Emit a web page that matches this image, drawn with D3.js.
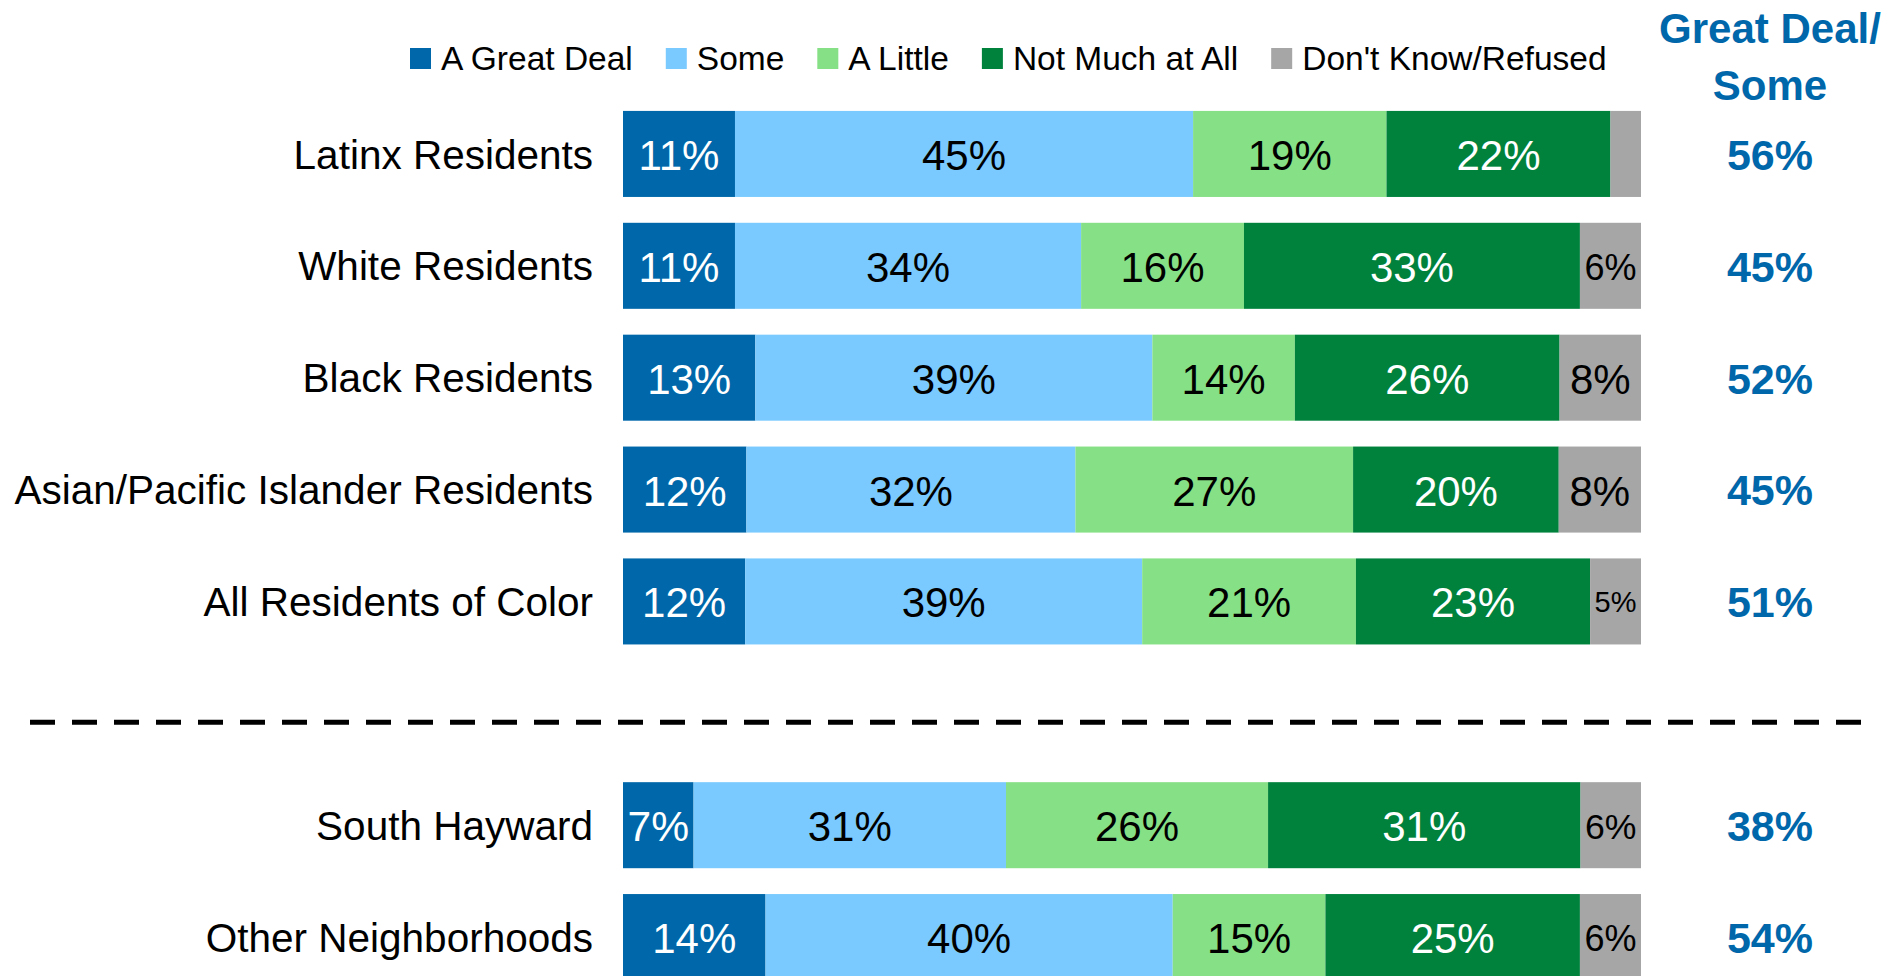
<!DOCTYPE html>
<html>
<head>
<meta charset="utf-8">
<script src="https://d3js.org/d3.v7.min.js"></script>
<style>
  body { margin: 0; background: white; }
  text { font-family: "Liberation Sans", Arial, sans-serif; }
  .cat { font-size: 40.5px; fill: #000; }
  .legend text { font-size: 33.5px; fill: #000; }
  .total { font-size: 43px; font-weight: bold; fill: #0067AB; }
  .head { font-size: 42px; font-weight: bold; fill: #0067AB; }
</style>
</head>
<body>
<svg id="chart" width="1890" height="976"></svg>
<script>
// data
var categories = ["Latinx Residents", "White Residents", "Black Residents",
  "Asian/Pacific Islander Residents", "All Residents of Color",
  "South Hayward", "Other Neighborhoods"];
var responses = ["A Great Deal", "Some", "A Little", "Not Much at All", "Don't Know/Refused"];
var greatDeal = [11, 11, 13, 12, 12, 7, 14];
var some      = [45, 34, 39, 32, 39, 31, 40];
var aLittle   = [19, 16, 14, 27, 21, 26, 15];
var notMuch   = [22, 33, 26, 20, 23, 31, 25];
var dontKnow  = [3, 6, 8, 8, 5, 6, 6];
var greatDealSome = [56, 45, 52, 45, 51, 38, 54];

var colors = ["#0068AA", "#7ACAFF", "#86E086", "#00823D", "#A6A6A6"];
var labelColors = ["#fff", "#000", "#000", "#fff", "#000"];

var rows = categories.map(function(c, i) {
  return { cat: c, "A Great Deal": greatDeal[i], "Some": some[i], "A Little": aLittle[i],
    "Not Much at All": notMuch[i], "Don't Know/Refused": dontKnow[i], total: greatDealSome[i] };
});

var svg = d3.select("#chart");

// slot list, with an empty slot where the dashed divider goes
var slots = categories.slice(0, 5).concat(["__divider"], categories.slice(5));

var x = d3.scaleLinear().domain([0, 1]).range([623, 1641]);
var y = d3.scaleBand().domain(slots).range([98, 993]).paddingInner(0.231).paddingOuter(0.1155);

var stack = d3.stack().keys(responses).offset(d3.stackOffsetExpand);
var series = stack(rows);

var layer = svg.append("g").selectAll("g")
  .data(series)
  .enter().append("g")
    .attr("fill", function(d, i) { return colors[i]; });

layer.selectAll("rect")
  .data(function(d) { return d; })
  .enter().append("rect")
    .attr("x", function(d) { return x(d[0]); })
    .attr("y", function(d) { return y(d.data.cat); })
    .attr("width", function(d) { return x(d[1]) - x(d[0]); })
    .attr("height", y.bandwidth());

// value labels, shrunk when the segment is narrow
var baseSize = 42;
series.forEach(function(s, si) {
  s.forEach(function(d) {
    var v = d.data[s.key];
    if (v < 4) return;
    var w = x(d[1]) - x(d[0]);
    var t = svg.append("text")
      .attr("x", (x(d[0]) + x(d[1])) / 2)
      .attr("y", y(d.data.cat) + y.bandwidth() / 2)
      .attr("dy", "0.38em")
      .attr("text-anchor", "middle")
      .attr("fill", labelColors[si])
      .style("font-size", baseSize + "px")
      .text(v + "%");
    var tw = t.node().getComputedTextLength();
    if (tw > w - 12) {
      t.style("font-size", (baseSize * (w - 9) / tw) + "px");
    }
  });
});

// category labels
svg.append("g").selectAll("text")
  .data(rows)
  .enter().append("text")
    .attr("class", "cat")
    .attr("x", x(0) - 30)
    .attr("y", function(d) { return y(d.cat) + y.bandwidth() / 2; })
    .attr("dy", "0.36em")
    .attr("text-anchor", "end")
    .text(function(d) { return d.cat; });

// great deal / some totals
var colX = 1770;
svg.append("g").selectAll("text")
  .data(rows)
  .enter().append("text")
    .attr("class", "total")
    .attr("x", colX)
    .attr("y", function(d) { return y(d.cat) + y.bandwidth() / 2; })
    .attr("dy", "0.37em")
    .attr("text-anchor", "middle")
    .text(function(d) { return d.total + "%"; });

svg.append("text").attr("class", "head").attr("x", colX).attr("y", 43)
  .attr("text-anchor", "middle").text("Great Deal/");
svg.append("text").attr("class", "head").attr("x", colX).attr("y", 100)
  .attr("text-anchor", "middle").text("Some");

// dashed divider
var divY = y("__divider") + y.bandwidth() / 2 + 9;
svg.append("line")
  .attr("x1", 30).attr("x2", 1862)
  .attr("y1", divY).attr("y2", divY)
  .attr("stroke", "#000")
  .attr("stroke-width", 5)
  .attr("stroke-dasharray", "25,17");

// legend
var legend = svg.append("g").attr("class", "legend");
var lx = 410;
responses.forEach(function(r, i) {
  legend.append("rect")
    .attr("x", lx).attr("y", 48)
    .attr("width", 21).attr("height", 21)
    .attr("fill", colors[i]);
  var t = legend.append("text")
    .attr("x", lx + 31).attr("y", 70)
    .text(r);
  lx = lx + 31 + t.node().getComputedTextLength() + 33;
});
</script>
</body>
</html>
